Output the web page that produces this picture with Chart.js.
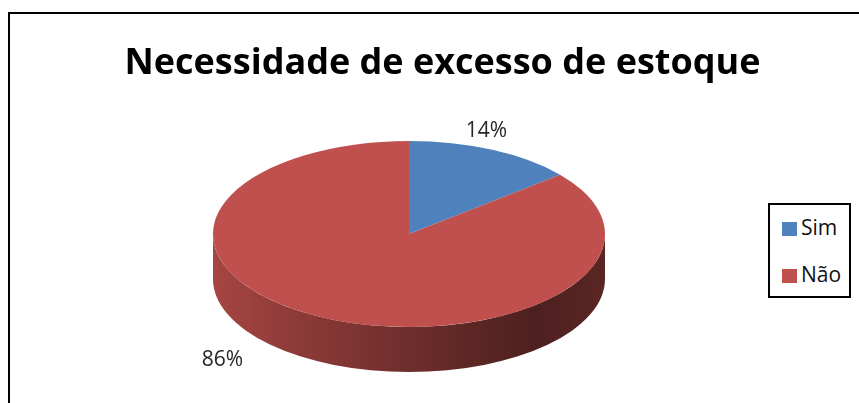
<!DOCTYPE html>
<html>
<head>
<meta charset="utf-8">
<script src="https://cdn.jsdelivr.net/npm/chart.js@4.4.1/dist/chart.umd.min.js"></script>
<style>
    html, body { margin: 0; padding: 0; background: #fff; overflow: hidden; }
    #wrap { position: relative; width: 859px; height: 403px; }
    #frame { position: absolute; left: 8px; top: 12px; width: 1000px; height: 1000px;
             border: 2px solid #000; box-shadow: 1px 1px 0 #888; }
    #chart { position: absolute; left: 0; top: 0; }
    #legend { position: absolute; left: 768px; top: 203px; width: 83px; height: 95px;
              box-sizing: border-box; border: 2px solid #000; background: #fff;
              font-family: 'Open Sans', sans-serif; font-size: 21px; color: #111; }
    .item { position: absolute; left: 12px; height: 24px; line-height: 24px; white-space: nowrap; }
    .item span { display: inline-block; width: 15px; height: 14px; margin-right: 4px; vertical-align: -1px; }
</style>
</head>
<body>
<div id="wrap">
    <div id="frame"></div>
    <canvas id="chart" width="859" height="403"></canvas>
    <div id="legend"></div>
</div>
<script>
const categories = ['Sim', 'Não'];
const percentages = [14, 86];
const colors = ['#4F81BD', '#C0504D'];
const chartTitle = 'Necessidade de excesso de estoque';

// label placement relative to the slice edge (x, y)
const labelOffsets = [[-6, -19], [-103, 42]];

function shade(hex, f) {
    const n = parseInt(hex.slice(1), 16);
    const r = Math.round(((n >> 16) & 255) * f);
    const g = Math.round(((n >> 8) & 255) * f);
    const b = Math.round((n & 255) * f);
    return `rgb(${r},${g},${b})`;
}

// flattens the pie into an ellipse and adds a side wall
const pie3d = {
    id: 'pie3d',
    beforeDatasetsDraw(chart, args, opts) {
        const ctx = chart.ctx;
        const meta = chart.getDatasetMeta(0);
        const { cx, cy, rx, ry, depth } = opts;

        meta.data.forEach((arc, i) => {
            const base = colors[i];
            for (let k = -1; k <= 1; k++) {
                const a1 = Math.max(arc.startAngle, 2 * Math.PI * k);
                const a2 = Math.min(arc.endAngle, 2 * Math.PI * k + Math.PI);
                if (a2 <= a1) continue;
                const grad = ctx.createLinearGradient(cx - rx, 0, cx + rx, 0);
                grad.addColorStop(0, shade(base, 0.86));
                grad.addColorStop(0.45, shade(base, 0.6));
                grad.addColorStop(0.82, shade(base, 0.4));
                grad.addColorStop(1, shade(base, 0.47));
                ctx.save();
                ctx.beginPath();
                ctx.ellipse(cx, cy, rx, ry, 0, a1, a2, false);
                ctx.ellipse(cx, cy + depth, rx, ry, 0, a2, a1, true);
                ctx.closePath();
                ctx.fillStyle = grad;
                ctx.fill();
                ctx.restore();
            }
        });

        const arc = meta.data[0];
        const r = arc.outerRadius;
        ctx.save();
        ctx.translate(cx, cy);
        ctx.scale(rx / r, ry / r);
        ctx.translate(-arc.x, -arc.y);
    },
    afterDatasetsDraw(chart, args, opts) {
        const ctx = chart.ctx;
        ctx.restore();

        const meta = chart.getDatasetMeta(0);
        const { cx, cy, rx, ry, depth } = opts;
        ctx.save();
        ctx.font = '21px "Open Sans", sans-serif';
        ctx.fillStyle = '#262626';
        ctx.textAlign = 'center';
        ctx.textBaseline = 'middle';
        meta.data.forEach((arc, i) => {
            const mid = (arc.startAngle + arc.endAngle) / 2;
            const x = cx + rx * Math.cos(mid) + labelOffsets[i][0];
            const y = cy + ry * Math.sin(mid) + labelOffsets[i][1];
            ctx.fillText(percentages[i] + '%', x, y);
        });
        ctx.restore();
    }
};

const legendEl = document.getElementById('legend');
categories.forEach((name, i) => {
    const item = document.createElement('div');
    item.className = 'item';
    item.style.top = (10 + i * 47) + 'px';
    item.innerHTML = `<span style="background:${colors[i]}"></span>${name}`;
    legendEl.appendChild(item);
});

const ctx = document.getElementById('chart').getContext('2d');
new Chart(ctx, {
    type: 'pie',
    data: {
        labels: categories,
        datasets: [{
            data: percentages,
            backgroundColor: colors,
            borderWidth: 0,
        }],
    },
    options: {
        responsive: false,
        animation: false,
        layout: { padding: { left: 26, right: 0, top: 0, bottom: 0 } },
        plugins: {
            legend: { display: false },
            tooltip: { enabled: false },
            title: {
                display: true,
                text: chartTitle,
                color: '#000',
                font: { family: 'Open Sans', size: 36, weight: 'bold' },
                padding: { top: 42, bottom: 10 },
            },
            pie3d: { cx: 409, cy: 234, rx: 196, ry: 93, depth: 45 },
        },
    },
    plugins: [pie3d],
});
</script>
</body>
</html>
